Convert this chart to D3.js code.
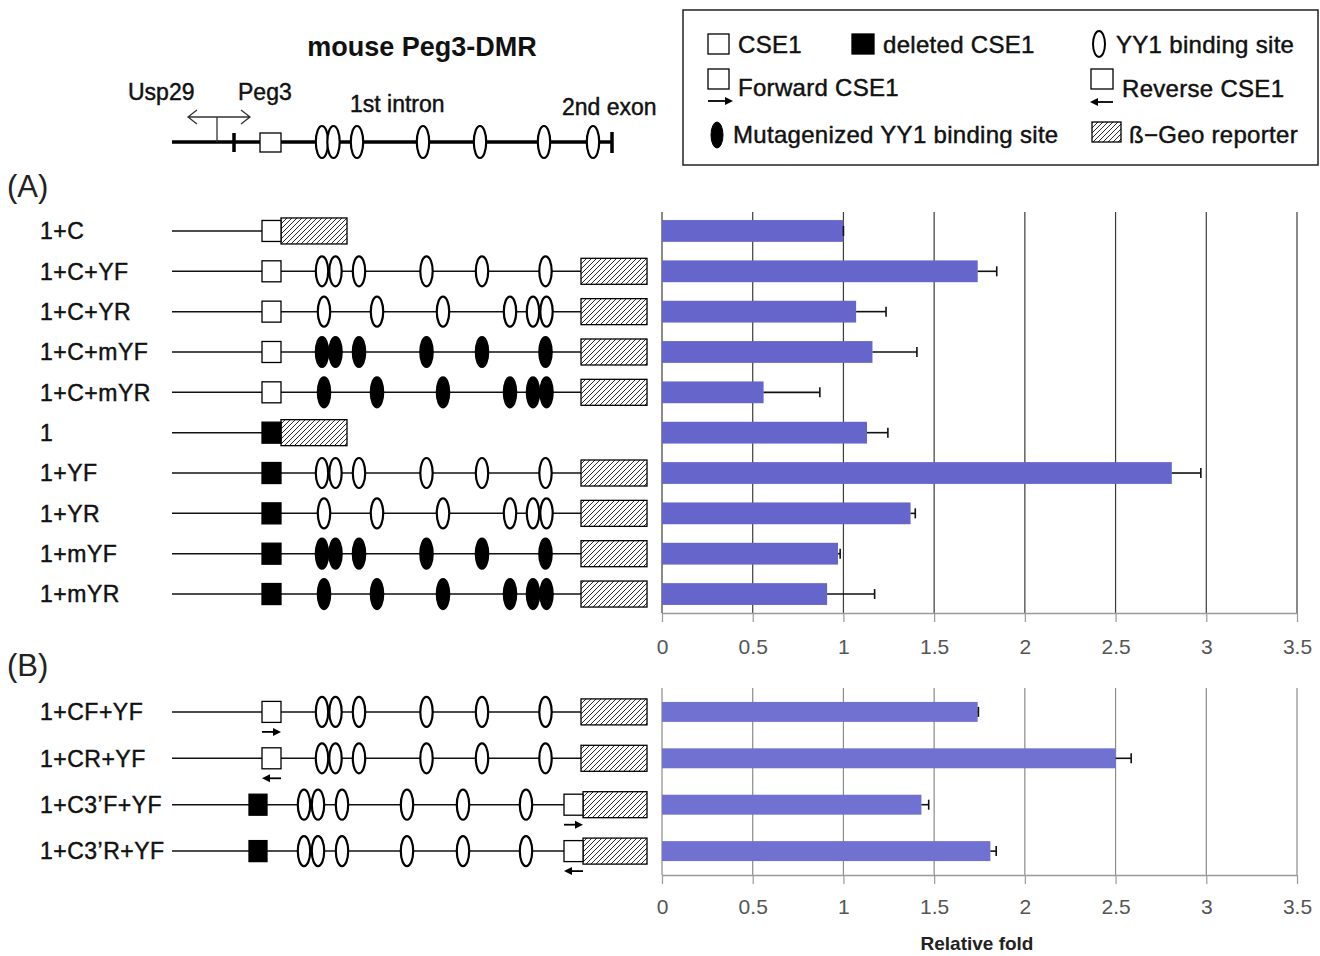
<!DOCTYPE html>
<html>
<head>
<meta charset="utf-8">
<script src="https://cdn.jsdelivr.net/npm/d3@7"></script>
<style>
  body { margin: 0; background: #fff; }
  svg { display: block; font-family: "Liberation Sans", Arial, sans-serif; }
  .heavy { stroke: #111; stroke-width: 0.45px; }
</style>
</head>
<body>
<div id="chart"></div>
<script>
// ---- bar data (relative fold +- error) ----
const rowsA = ['1+C', '1+C+YF', '1+C+YR', '1+C+mYF', '1+C+mYR', '1', '1+YF', '1+YR', '1+mYF', '1+mYR'];
const foldA = [1.0, 1.74, 1.07, 1.16, 0.56, 1.13, 2.81, 1.37, 0.97, 0.91];
const errA = [0.0, 0.105, 0.165, 0.245, 0.31, 0.115, 0.16, 0.026, 0.012, 0.262];

const rowsB = ['1+CF+YF', '1+CR+YF', '1+C3’F+YF', '1+C3’R+YF'];
const foldB = [1.74, 2.50, 1.43, 1.81];
const errB = [0.004, 0.086, 0.04, 0.032];

const foldTicks = [0, 0.5, 1, 1.5, 2, 2.5, 3, 3.5];

// ---- construct schematics (map units along the DMR) ----
const cseA = ['open', 'open', 'open', 'open', 'open', 'deleted', 'deleted', 'deleted', 'deleted', 'deleted'];
const sitesA = ['none', 'fwd', 'rev', 'fwd', 'rev', 'none', 'fwd', 'rev', 'fwd', 'rev'];
const mutA = [false, false, false, true, true, false, false, false, true, true];

const cseEndB = ['5p', '5p', '3p', '3p'];
const cseDirB = ['F', 'R', 'F', 'R'];

const fwdSites = [30, 32.7, 37.4, 50.9, 62, 74.7];
const revSites = [30.4, 41, 54.2, 67.6, 72.2, 74.9];
const c3Sites = [26.4, 29.2, 34, 47, 58.2, 70.8];
const dmrSites = [30, 32.3, 37, 50.2, 61.6, 74.4, 84.2];

const cseSpan = [18, 21.8];
const deletedSpan3 = [15.4, 19];
const cseSpan3 = [78.4, 82.2];
const reporterShort = [21.8, 35];
const reporterLong = [81.8, 95];

const W = 1320, H = 956;

const svg = d3.select('#chart')
    .append('svg')
    .attr('width', W)
    .attr('height', H);

// hatched beta-Geo fill
const pat = svg.append('defs').append('pattern')
    .attr('id', 'hatch')
    .attr('patternUnits', 'userSpaceOnUse')
    .attr('width', 5)
    .attr('height', 5);
pat.append('rect').attr('width', 5).attr('height', 5).attr('fill', '#fff');
pat.append('path')
    .attr('d', 'M-1,1 l2,-2 M0,5 l5,-5 M4,6 l2,-2')
    .attr('stroke', '#111')
    .attr('stroke-width', 0.9);

// position along the construct
const gx = d3.scaleLinear().domain([0, 95]).range([172, 647]);

/* **** small glyph helpers **** */
function site(g, u, cy, filled, ry) {
    g.append('ellipse')
        .attr('cx', gx(u)).attr('cy', cy)
        .attr('rx', 6.2).attr('ry', ry || 15)
        .attr('fill', filled ? '#000' : '#fff')
        .attr('stroke', '#000')
        .attr('stroke-width', 2.2);
}
function box(g, span, cy, fill, h) {
    g.append('rect')
        .attr('x', gx(span[0])).attr('y', cy - h / 2)
        .attr('width', gx(span[1]) - gx(span[0])).attr('height', h)
        .attr('fill', fill)
        .attr('stroke', '#000')
        .attr('stroke-width', 1.3);
}
function arrow(g, x0, x1, y) {
    const dir = x1 > x0 ? 1 : -1;
    g.append('line')
        .attr('x1', x0).attr('x2', x1 - dir * 6)
        .attr('y1', y).attr('y2', y)
        .attr('stroke', '#000').attr('stroke-width', 1.8);
    g.append('path')
        .attr('d', `M${x1},${y} L${x1 - dir * 8},${y - 4} L${x1 - dir * 8},${y + 4} Z`)
        .attr('fill', '#000');
}
function backbone(g, u0, u1, cy) {
    g.append('line')
        .attr('x1', gx(u0)).attr('x2', gx(u1))
        .attr('y1', cy).attr('y2', cy)
        .attr('stroke', '#111')
        .attr('stroke-width', 1.5);
}
function rowLabel(g, text, cy) {
    g.append('text')
        .attr('class', 'heavy')
        .attr('x', 40).attr('y', cy).attr('dy', '0.36em')
        .attr('font-size', 23).attr('fill', '#111')
        .attr('letter-spacing', 0.5)
        .text(text);
}

/* **** bar chart panel **** */
const fx = d3.scaleLinear().domain([0, 3.5]).range([662, 1297]);

function barPanel(rows, vals, errs, y, axisY, opts) {
    const y0 = y.range()[0];
    const g = svg.append('g');
    g.selectAll('line.grid')
        .data(foldTicks)
        .join('line')
        .attr('class', 'grid')
        .attr('x1', d => fx(d)).attr('x2', d => fx(d))
        .attr('y1', y0).attr('y2', axisY)
        .attr('stroke', opts.grid)
        .attr('stroke-width', 1.2);

    const axis = g.append('g')
        .attr('transform', `translate(0,${axisY})`)
        .call(d3.axisBottom(fx)
            .tickValues(foldTicks)
            .tickFormat(d3.format(''))
            .tickSize(9)
            .tickSizeOuter(0)
            .tickPadding(opts.pad));
    axis.select('.domain').attr('stroke', '#9a9a9a').attr('stroke-width', 1.3);
    axis.selectAll('.tick line').attr('stroke', '#9a9a9a').attr('stroke-width', 1.2);
    axis.selectAll('.tick text')
        .attr('font-family', '"Liberation Sans Narrow", "Liberation Sans", Arial, sans-serif')
        .attr('font-size', 21)
        .attr('fill', '#555');

    g.selectAll('rect.bar')
        .data(rows)
        .join('rect')
        .attr('class', 'bar')
        .attr('x', fx(0))
        .attr('y', d => y(d))
        .attr('width', (d, i) => fx(vals[i]) - fx(0))
        .attr('height', y.bandwidth())
        .attr('fill', opts.color);

    // error bars
    rows.forEach((d, i) => {
        const cy = y(d) + y.bandwidth() / 2;
        const xe = fx(vals[i] + errs[i]);
        g.append('line')
            .attr('x1', fx(vals[i])).attr('x2', xe)
            .attr('y1', cy).attr('y2', cy)
            .attr('stroke', '#111').attr('stroke-width', 1.6);
        g.append('line')
            .attr('x1', xe).attr('x2', xe)
            .attr('y1', cy - 5).attr('y2', cy + 5)
            .attr('stroke', '#111').attr('stroke-width', 1.6);
    });
}

const yA = d3.scaleBand().domain(rowsA).range([212, 613]).paddingInner(0.46).paddingOuter(0.2);
const yB = d3.scaleBand().domain(rowsB).range([688, 875]).paddingInner(0.57).paddingOuter(0.3);

barPanel(rowsA, foldA, errA, yA, 613, { color: '#6565cc', grid: '#3c3c3c', pad: 17 });
barPanel(rowsB, foldB, errB, yB, 875, { color: '#7171d2', grid: '#8a8a8a', pad: 15 });

svg.append('text')
    .attr('x', 977).attr('y', 950)
    .attr('text-anchor', 'middle')
    .attr('font-size', 19).attr('font-weight', 'bold')
    .attr('fill', '#222')
    .text('Relative fold');

/* **** construct rows, panel A **** */
const dA = svg.append('g');
rowsA.forEach((name, i) => {
    const cy = yA(name) + yA.bandwidth() / 2;
    rowLabel(dA, name, cy);
    const fill = cseA[i] === 'open' ? '#fff' : '#000';
    if (sitesA[i] === 'none') {
        backbone(dA, 0, cseSpan[0], cy);
        box(dA, reporterShort, cy, 'url(#hatch)', 26);
        box(dA, cseSpan, cy, fill, 21);
    } else {
        backbone(dA, 0, reporterLong[0], cy);
        box(dA, cseSpan, cy, fill, 21);
        (sitesA[i] === 'fwd' ? fwdSites : revSites).forEach(u => site(dA, u, cy, mutA[i]));
        box(dA, reporterLong, cy, 'url(#hatch)', 26);
    }
});

/* **** construct rows, panel B **** */
const dB = svg.append('g');
rowsB.forEach((name, i) => {
    const cy = yB(name) + yB.bandwidth() / 2;
    rowLabel(dB, name, cy);
    backbone(dB, 0, reporterLong[0], cy);
    let span;
    if (cseEndB[i] === '5p') {
        span = cseSpan;
        box(dB, cseSpan, cy, '#fff', 21);
        fwdSites.forEach(u => site(dB, u, cy, false));
        box(dB, reporterLong, cy, 'url(#hatch)', 26);
    } else {
        span = cseSpan3;
        box(dB, deletedSpan3, cy, '#000', 21);
        c3Sites.forEach(u => site(dB, u, cy, false));
        box(dB, [cseSpan3[1], reporterLong[1]], cy, 'url(#hatch)', 26);
        box(dB, cseSpan3, cy, '#fff', 21);
    }
    const a0 = gx(span[0]), a1 = gx(span[1]);
    if (cseDirB[i] === 'F') arrow(dB, a0, a1, cy + 20);
    else arrow(dB, a1, a0, cy + 20);
});

/* **** panel letters **** */
svg.append('text').attr('x', 7).attr('y', 197).attr('font-size', 31).attr('fill', '#222').text('(A)');
svg.append('text').attr('x', 7).attr('y', 676).attr('font-size', 31).attr('fill', '#222').text('(B)');

/* **** mouse Peg3-DMR map **** */
const mapG = svg.append('g');
const mapY = 142;
mapG.append('text')
    .attr('x', 422).attr('y', 56)
    .attr('text-anchor', 'middle')
    .attr('font-size', 27).attr('font-weight', 'bold')
    .attr('fill', '#111')
    .text('mouse Peg3-DMR');
mapG.append('line')
    .attr('x1', gx(0)).attr('x2', gx(88))
    .attr('y1', mapY).attr('y2', mapY)
    .attr('stroke', '#000').attr('stroke-width', 3.5);
// Usp29 / Peg3 bidirectional promoter
mapG.append('path')
    .attr('d', `M${gx(9)},${mapY} V117 M${gx(3.2)},117 H${gx(15.6)}
        M${gx(3.2) + 9},110 L${gx(3.2)},117 L${gx(3.2) + 9},124
        M${gx(15.6) - 9},110 L${gx(15.6)},117 L${gx(15.6) - 9},124`)
    .attr('fill', 'none')
    .attr('stroke', '#333')
    .attr('stroke-width', 1.3);
mapG.append('line')
    .attr('x1', gx(12.4)).attr('x2', gx(12.4))
    .attr('y1', 133).attr('y2', 152)
    .attr('stroke', '#000').attr('stroke-width', 3.5);
mapG.append('line')
    .attr('x1', gx(88)).attr('x2', gx(88))
    .attr('y1', 132).attr('y2', 153)
    .attr('stroke', '#000').attr('stroke-width', 3.5);
mapG.append('rect')
    .attr('x', gx(17.6)).attr('y', 133)
    .attr('width', gx(21.8) - gx(17.6)).attr('height', 19)
    .attr('fill', '#fff').attr('stroke', '#000').attr('stroke-width', 1.3);
dmrSites.forEach(u => site(mapG, u, mapY, false, 16));

const mapLabels = [['Usp29', 128, 100], ['Peg3', 238, 100], ['1st intron', 350, 112], ['2nd exon', 562, 115]];
mapG.selectAll('text.lab')
    .data(mapLabels)
    .join('text')
    .attr('class', 'lab heavy')
    .attr('x', d => d[1]).attr('y', d => d[2])
    .attr('font-size', 23).attr('fill', '#111')
    .text(d => d[0]);

/* **** legend **** */
const lg = svg.append('g');
lg.append('rect')
    .attr('x', 683).attr('y', 10).attr('width', 635).attr('height', 155)
    .attr('fill', '#fff').attr('stroke', '#222').attr('stroke-width', 1.5);
const lgText = (x, y, t) => lg.append('text')
    .attr('class', 'heavy')
    .attr('x', x).attr('y', y)
    .attr('font-size', 24).attr('fill', '#111')
    .attr('letter-spacing', 0.3)
    .text(t);
const lgBox = (x, y, w, h, fill) => lg.append('rect')
    .attr('x', x).attr('y', y).attr('width', w).attr('height', h)
    .attr('fill', fill).attr('stroke', '#000').attr('stroke-width', 1.3);

lgBox(708, 34, 21, 20, '#fff');
lgText(738, 53, 'CSE1');
lgBox(852, 34, 22, 20, '#000');
lgText(883, 53, 'deleted CSE1');
lg.append('ellipse').attr('cx', 1099).attr('cy', 44).attr('rx', 6).attr('ry', 13)
    .attr('fill', '#fff').attr('stroke', '#000').attr('stroke-width', 2);
lgText(1116, 53, 'YY1 binding site');

lgBox(708, 69, 21, 20, '#fff');
arrow(lg, 708, 733, 101);
lgText(738, 96, 'Forward CSE1');
lgBox(1091, 69, 22, 20, '#fff');
arrow(lg, 1113, 1090, 102);
lgText(1122, 97, 'Reverse CSE1');

lg.append('ellipse').attr('cx', 717).attr('cy', 135).attr('rx', 6).attr('ry', 13)
    .attr('fill', '#000').attr('stroke', '#000').attr('stroke-width', 1);
lgText(733, 143, 'Mutagenized YY1 binding site');
lgBox(1092, 122, 29, 20, 'url(#hatch)');
lgText(1129, 143, 'ß−Geo reporter');
</script>
</body>
</html>
